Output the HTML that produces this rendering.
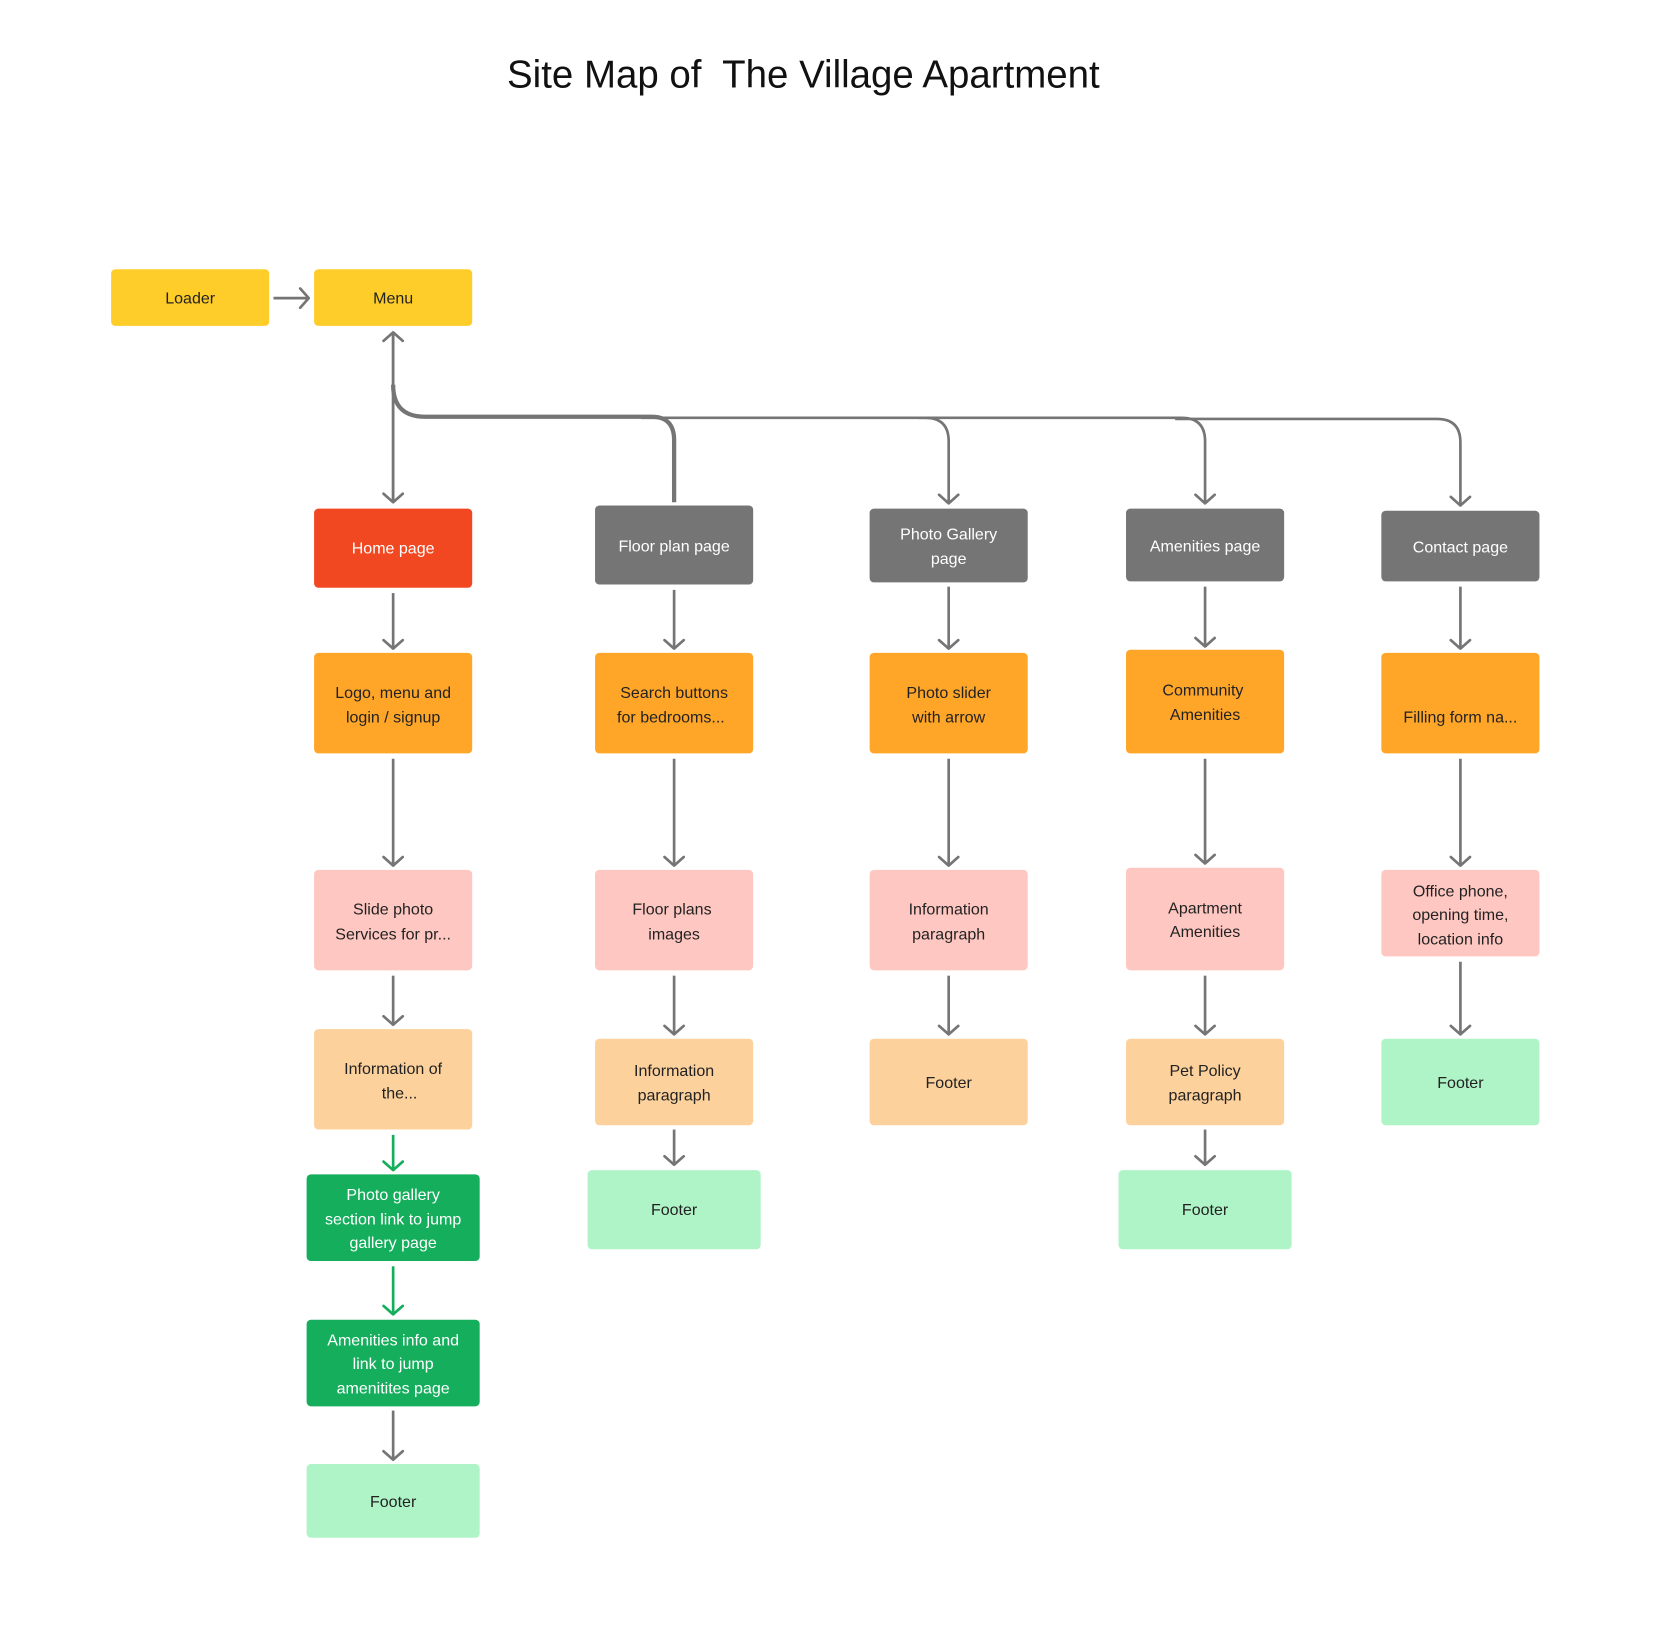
<!DOCTYPE html>
<html><head><meta charset="utf-8"><style>
html,body{margin:0;padding:0;background:#fff;}
svg{display:block;}
text{font-family:"Liberation Sans",sans-serif;}
</style></head><body>
<svg width="1673" height="1635" viewBox="0 0 1566 1530" preserveAspectRatio="none" xmlns="http://www.w3.org/2000/svg">
<defs>
<marker id="a" markerUnits="userSpaceOnUse" markerWidth="24" markerHeight="24" refX="12" refY="12" orient="auto" viewBox="0 0 24 24">
<path d="M4 3 L12 12 L4 21" fill="none" stroke="#757575" stroke-width="2.5" stroke-linecap="round" stroke-linejoin="round"/>
</marker>
<marker id="g" markerUnits="userSpaceOnUse" markerWidth="24" markerHeight="24" refX="12" refY="12" orient="auto" viewBox="0 0 24 24">
<path d="M4 3 L12 12 L4 21" fill="none" stroke="#14AE5C" stroke-width="2.5" stroke-linecap="round" stroke-linejoin="round"/>
</marker>
</defs>
<text x="752" y="82" font-size="36" text-anchor="middle" fill="#111">Site Map of&#160; The Village Apartment</text>

<g fill="none" stroke="#757575" stroke-width="2.5">
<line x1="256" y1="279" x2="289" y2="279" marker-end="url(#a)"/>
<line x1="368" y1="470" x2="368" y2="311" marker-end="url(#a)"/>
<line x1="368" y1="311" x2="368" y2="470" marker-end="url(#a)"/>
<path d="M368 360 Q368 390 398 390 L610 390 Q631 390 631 412 L631 470" stroke-width="4"/>
<path d="M600 391 L866 391 Q888 391 888 413 L888 471" marker-end="url(#a)"/>
<path d="M860 391 L1106 391 Q1128 391 1128 413 L1128 471" marker-end="url(#a)"/>
<path d="M1100 392 L1345 392 Q1367 392 1367 414 L1367 473" marker-end="url(#a)"/>

<line x1="368" y1="555" x2="368" y2="607" marker-end="url(#a)"/>
<line x1="631" y1="552" x2="631" y2="607" marker-end="url(#a)"/>
<line x1="888" y1="549" x2="888" y2="607" marker-end="url(#a)"/>
<line x1="1128" y1="549" x2="1128" y2="605" marker-end="url(#a)"/>
<line x1="1367" y1="549" x2="1367" y2="607" marker-end="url(#a)"/>

<line x1="368" y1="710" x2="368" y2="810" marker-end="url(#a)"/>
<line x1="631" y1="710" x2="631" y2="810" marker-end="url(#a)"/>
<line x1="888" y1="710" x2="888" y2="810" marker-end="url(#a)"/>
<line x1="1128" y1="710" x2="1128" y2="808" marker-end="url(#a)"/>
<line x1="1367" y1="710" x2="1367" y2="810" marker-end="url(#a)"/>

<line x1="368" y1="913" x2="368" y2="959" marker-end="url(#a)"/>
<line x1="631" y1="913" x2="631" y2="968" marker-end="url(#a)"/>
<line x1="888" y1="913" x2="888" y2="968" marker-end="url(#a)"/>
<line x1="1128" y1="913" x2="1128" y2="968" marker-end="url(#a)"/>
<line x1="1367" y1="900" x2="1367" y2="968" marker-end="url(#a)"/>

<line x1="631" y1="1057" x2="631" y2="1090" marker-end="url(#a)"/>
<line x1="1128" y1="1057" x2="1128" y2="1090" marker-end="url(#a)"/>
<line x1="368" y1="1320" x2="368" y2="1366" marker-end="url(#a)"/>
</g>
<g fill="none" stroke="#14AE5C" stroke-width="2.5">
<line x1="368" y1="1062" x2="368" y2="1095" marker-end="url(#g)"/>
<line x1="368" y1="1185" x2="368" y2="1230" marker-end="url(#g)"/>
</g>

<g font-size="15" text-anchor="middle">
<rect x="104" y="252" width="148" height="53" rx="4" fill="#FFCD29"/><text x="178" y="284" fill="#222">Loader</text>
<rect x="294" y="252" width="148" height="53" rx="4" fill="#FFCD29"/><text x="368" y="284" fill="#222">Menu</text>

<rect x="294" y="476" width="148" height="74" rx="4" fill="#F24822"/><text x="368" y="518" fill="#fff">Home page</text>
<rect x="557" y="473" width="148" height="74" rx="4" fill="#757575"/><text x="631" y="516" fill="#fff">Floor plan page</text>
<rect x="814" y="476" width="148" height="69" rx="4" fill="#757575"/><text x="888" y="505" fill="#fff">Photo Gallery</text><text x="888" y="528" fill="#fff">page</text>
<rect x="1054" y="476" width="148" height="68" rx="4" fill="#757575"/><text x="1128" y="516" fill="#fff">Amenities page</text>
<rect x="1293" y="478" width="148" height="66" rx="4" fill="#757575"/><text x="1367" y="517" fill="#fff">Contact page</text>

<rect x="294" y="611" width="148" height="94" rx="4" fill="#FFA629"/><text x="368" y="653" fill="#222">Logo, menu and</text><text x="368" y="676" fill="#222">login / signup</text>
<rect x="557" y="611" width="148" height="94" rx="4" fill="#FFA629"/><text x="631" y="653" fill="#222">Search buttons</text><text x="628" y="676" fill="#222">for bedrooms...</text>
<rect x="814" y="611" width="148" height="94" rx="4" fill="#FFA629"/><text x="888" y="653" fill="#222">Photo slider</text><text x="888" y="676" fill="#222">with arrow</text>
<rect x="1054" y="608" width="148" height="97" rx="4" fill="#FFA629"/><text x="1126" y="651" fill="#222">Community</text><text x="1128" y="674" fill="#222">Amenities</text>
<rect x="1293" y="611" width="148" height="94" rx="4" fill="#FFA629"/><text x="1367" y="676" fill="#222">Filling form na...</text>

<rect x="294" y="814" width="148" height="94" rx="4" fill="#FFC7C2"/><text x="368" y="856" fill="#222">Slide photo</text><text x="368" y="879" fill="#222">Services for pr...</text>
<rect x="557" y="814" width="148" height="94" rx="4" fill="#FFC7C2"/><text x="629" y="856" fill="#222">Floor plans</text><text x="631" y="879" fill="#222">images</text>
<rect x="814" y="814" width="148" height="94" rx="4" fill="#FFC7C2"/><text x="888" y="856" fill="#222">Information</text><text x="888" y="879" fill="#222">paragraph</text>
<rect x="1054" y="812" width="148" height="96" rx="4" fill="#FFC7C2"/><text x="1128" y="855" fill="#222">Apartment</text><text x="1128" y="877" fill="#222">Amenities</text>
<rect x="1293" y="814" width="148" height="81" rx="4" fill="#FFC7C2"/><text x="1367" y="839" fill="#222">Office phone,</text><text x="1367" y="861" fill="#222">opening time,</text><text x="1367" y="884" fill="#222">location info</text>

<rect x="294" y="963" width="148" height="94" rx="4" fill="#FCD19C"/><text x="368" y="1005" fill="#222">Information of</text><text x="374" y="1028" fill="#222">the...</text>
<rect x="557" y="972" width="148" height="81" rx="4" fill="#FCD19C"/><text x="631" y="1007" fill="#222">Information</text><text x="631" y="1030" fill="#222">paragraph</text>
<rect x="814" y="972" width="148" height="81" rx="4" fill="#FCD19C"/><text x="888" y="1018" fill="#222">Footer</text>
<rect x="1054" y="972" width="148" height="81" rx="4" fill="#FCD19C"/><text x="1128" y="1007" fill="#222">Pet Policy</text><text x="1128" y="1030" fill="#222">paragraph</text>
<rect x="1293" y="972" width="148" height="81" rx="4" fill="#AFF4C6"/><text x="1367" y="1018" fill="#222">Footer</text>

<rect x="287" y="1099" width="162" height="81" rx="4" fill="#14AE5C"/><text x="368" y="1123" fill="#fff">Photo gallery</text><text x="368" y="1146" fill="#fff">section link to jump</text><text x="368" y="1168" fill="#fff">gallery page</text>
<rect x="287" y="1235" width="162" height="81" rx="4" fill="#14AE5C"/><text x="368" y="1259" fill="#fff">Amenities info and</text><text x="368" y="1281" fill="#fff">link to jump</text><text x="368" y="1304" fill="#fff">amenitites page</text>
<rect x="287" y="1370" width="162" height="69" rx="4" fill="#AFF4C6"/><text x="368" y="1410" fill="#222">Footer</text>
<rect x="550" y="1095" width="162" height="74" rx="4" fill="#AFF4C6"/><text x="631" y="1137" fill="#222">Footer</text>
<rect x="1047" y="1095" width="162" height="74" rx="4" fill="#AFF4C6"/><text x="1128" y="1137" fill="#222">Footer</text>
</g>
</svg>
</body></html>
